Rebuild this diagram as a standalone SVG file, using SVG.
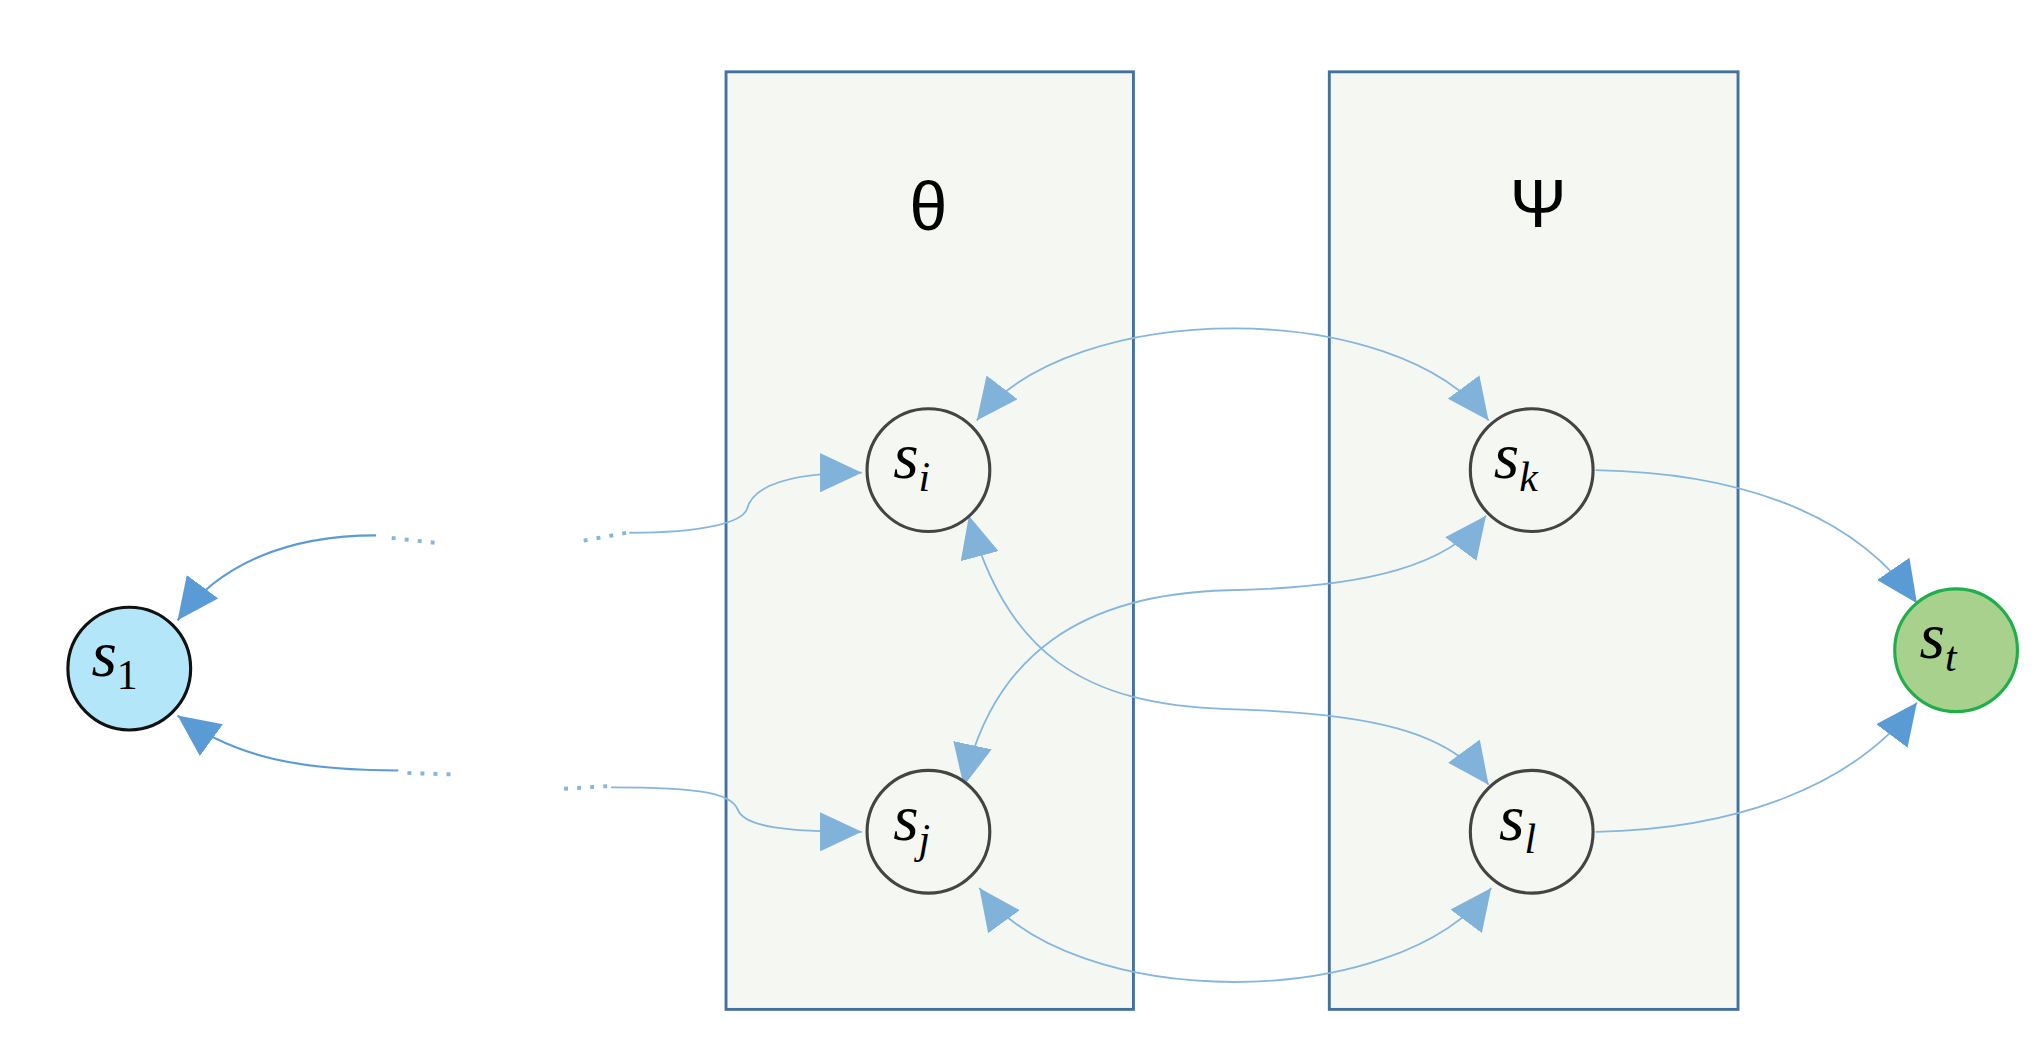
<svg xmlns="http://www.w3.org/2000/svg" width="2037" height="1056" viewBox="0 0 2037 1056">
<style>
.box{fill:#f5f8f2;stroke:#41719c;stroke-width:2.2}
.n{stroke-width:2.4}
.e{fill:none;stroke:#86b6dc;stroke-width:1.4}
.e2{fill:none;stroke:#5b9bd5;stroke-width:1.6}
.d{fill:none;stroke:#86b6dc;stroke-width:3;stroke-dasharray:3 7}
.lbl{font-family:"Liberation Serif",serif;font-style:italic;font-size:50px;fill:#000}
.sub{font-size:32px}
.gr{font-family:"Liberation Sans","DejaVu Sans",sans-serif;font-size:52px;fill:#000}
</style>
<defs>
<marker id="a" markerUnits="userSpaceOnUse" markerWidth="34" markerHeight="30" refX="32" refY="15" orient="auto-start-reverse"><path d="M0,0 L32,15 L0,30 z" fill="#80b2da"/></marker>
<marker id="b" markerUnits="userSpaceOnUse" markerWidth="34" markerHeight="30" refX="32" refY="15" orient="auto-start-reverse"><path d="M0,0 L32,15 L0,30 z" fill="#5b9bd5"/></marker>
</defs>
<rect width="2037" height="1056" fill="#fff"/>
<g transform="scale(1.3058)">
<g id="theta"><rect class="box" x="556" y="55" width="312" height="718"/><text class="gr" x="711" y="176" text-anchor="middle">θ</text></g>
<g id="psi"><rect class="box" x="1018" y="55" width="313" height="718"/><text class="gr" x="1178" y="174" text-anchor="middle">Ψ</text></g>
<g id="connectors">
<path class="e" d="M748,322 C820,228 1070,228 1140,322" marker-start="url(#a)" marker-end="url(#a)"/>
<path class="e" d="M750,680 C820,776 1070,776 1142,680" marker-start="url(#a)" marker-end="url(#a)"/>
<path class="e" d="M742,395 C770,500 830,540 940,543 C1050,546 1110,560 1140,601" marker-start="url(#a)" marker-end="url(#a)"/>
<path class="e" d="M738,602 C760,500 830,455 940,452 C1050,450 1110,432 1138,395" marker-start="url(#a)" marker-end="url(#a)"/>
<path class="e" d="M1222,360 C1330,362 1420,392 1468,462" marker-end="url(#b)"/>
<path class="e" d="M1222,637 C1330,635 1420,602 1468,538" marker-end="url(#b)"/>
<path class="e2" d="M288,410 C220,410 168,432 136,475" marker-end="url(#b)"/>
<path class="e2" d="M305,590 C230,590 180,580 136,548" marker-end="url(#b)"/>
<path class="d" d="M300,412 L336,416"/>
<path class="d" d="M312,592 L345,593"/>
<path class="d" d="M447,414 L480,408"/>
<path class="d" d="M432,604 L466,602"/>
<path class="e" d="M482,408 C540,408 568,400 572,390 C577,370 610,362 660,362" marker-end="url(#a)"/>
<path class="e" d="M468,603 C540,603 560,608 565,620 C570,633 600,637 660,637" marker-end="url(#a)"/>
</g>
<g id="s1"><circle class="n" cx="99" cy="512" r="47" fill="#b3e6f9" stroke="#111"/><text class="lbl" x="70" y="518">s<tspan class="sub" font-style="normal" dy="10">1</tspan></text></g>
<g id="si"><circle class="n" cx="711" cy="360" r="47" fill="#f5f8f2" stroke="#444"/><text class="lbl" x="684" y="366">s<tspan class="sub" dy="10">i</tspan></text></g>
<g id="sk"><circle class="n" cx="1173" cy="360" r="47" fill="#f5f8f2" stroke="#444"/><text class="lbl" x="1144" y="366">s<tspan class="sub" dy="10">k</tspan></text></g>
<g id="sj"><circle class="n" cx="711" cy="637" r="47" fill="#f5f8f2" stroke="#444"/><text class="lbl" x="684" y="643">s<tspan class="sub" dy="10">j</tspan></text></g>
<g id="sl"><circle class="n" cx="1173" cy="637" r="47" fill="#f5f8f2" stroke="#444"/><text class="lbl" x="1148" y="643">s<tspan class="sub" dy="10">l</tspan></text></g>
<g id="st"><circle class="n" cx="1498" cy="498" r="47" fill="#a9d18e" stroke="#1fae4a"/><text class="lbl" x="1470" y="504">s<tspan class="sub" dy="10">t</tspan></text></g>
</g>
</svg>
